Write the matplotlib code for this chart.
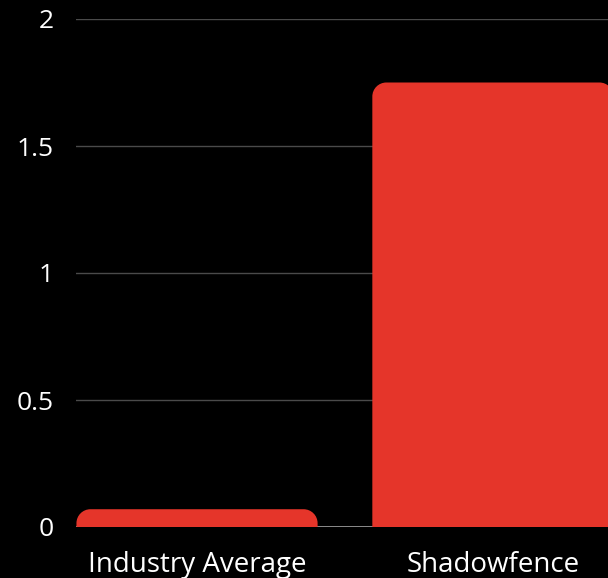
import matplotlib
matplotlib.use("Agg")
import matplotlib.pyplot as plt
from matplotlib.path import Path
from matplotlib.patches import PathPatch

categories = ["Industry Average", "Shadowfence"]
values = [0.07, 1.75]
y_ticks = [0, 0.5, 1, 1.5, 2]
y_tick_labels = ["0", "0.5", "1", "1.5", "2"]

BAR_COLOR = "#E5352A"
TEXT_COLOR = "#FFFFFF"

plt.rcParams["font.family"] = ["Open Sans", "DejaVu Sans"]

W, H = 608, 578
fig = plt.figure(figsize=(W / 100, H / 100), dpi=100, facecolor="black")
ax = fig.add_axes([76 / W, 51 / H, (608 - 76) / W, (527 - 19) / H])
ax.set_facecolor("black")

x = list(range(len(categories)))
bars = ax.bar(x, values, width=0.815, color=BAR_COLOR, zorder=3)

ax.set_xlim(-0.409, 1.389)
ax.set_ylim(0, 2)
ax.set_yticks(y_ticks)
ax.set_yticklabels(y_tick_labels)
ax.set_xticks(x)
ax.set_xticklabels(categories)
ax.tick_params(axis="both", length=0, colors=TEXT_COLOR)
ax.tick_params(axis="y", pad=16, labelsize=19)
ax.tick_params(axis="x", pad=17, labelsize=20)
for s in ax.spines.values():
    s.set_visible(False)
ax.yaxis.grid(True, color="#4a4a4a", linewidth=1, zorder=0)
ax.axhline(0, color="#a0a0a0", linewidth=1.2, zorder=2)

# Replace each bar with a shape that has rounded top corners (radius in pixels)
fig.canvas.draw()
radius_px = 14
inv = ax.transData.inverted()
x0d, y0d = inv.transform((0, 0))
x1d, y1d = inv.transform((1, 1))
dx_per_px = x1d - x0d
dy_per_px = y1d - y0d
k = 0.5523
for rect in bars.patches:
    bx, by = rect.get_x(), rect.get_y()
    bw, bh = rect.get_width(), rect.get_height()
    rx = radius_px * dx_per_px
    ry = min(radius_px * dy_per_px, bh)
    top = by + bh
    verts = [
        (bx, by),
        (bx, top - ry),
        (bx, top - ry + k * ry), (bx + rx - k * rx, top), (bx + rx, top),
        (bx + bw - rx, top),
        (bx + bw - rx + k * rx, top), (bx + bw, top - ry + k * ry), (bx + bw, top - ry),
        (bx + bw, by),
        (bx, by),
    ]
    codes = [Path.MOVETO, Path.LINETO,
             Path.CURVE4, Path.CURVE4, Path.CURVE4,
             Path.LINETO,
             Path.CURVE4, Path.CURVE4, Path.CURVE4,
             Path.LINETO, Path.CLOSEPOLY]
    ax.add_patch(PathPatch(Path(verts, codes), facecolor=BAR_COLOR,
                           edgecolor="none", zorder=3))
    rect.set_visible(False)

fig.savefig("out.png", dpi=100, facecolor="black")
